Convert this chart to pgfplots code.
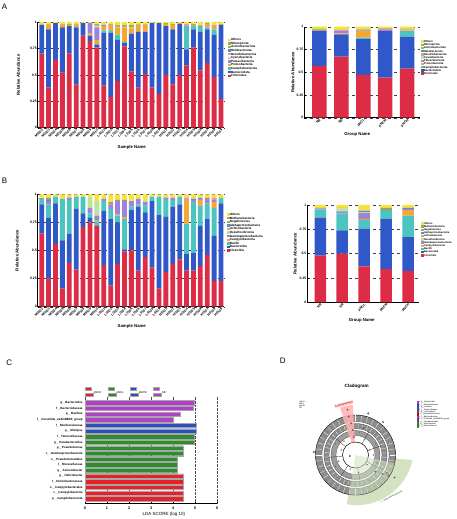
\documentclass[border=0pt]{standalone}
\usepackage{fontspec}
\setmainfont{Liberation Sans}
\usepackage{pgfplots}
\usepackage{pgfplotstable}
\pgfplotsset{compat=1.18}
\definecolor{cR}{HTML}{DC2C46}
\definecolor{cB}{HTML}{3058C8}
\definecolor{cT}{HTML}{4CC4C0}
\definecolor{cO}{HTML}{F4A731}
\definecolor{cP}{HTML}{A082DC}
\definecolor{cLG}{HTML}{BDE59A}
\definecolor{cPk}{HTML}{F2949C}
\definecolor{cSB}{HTML}{4A90D9}
\definecolor{cG}{HTML}{86C440}
\definecolor{cOl}{HTML}{A89F5C}
\definecolor{cY}{HTML}{F6E23E}
\definecolor{lR}{HTML}{E8202A}
\definecolor{lG}{HTML}{2E8B2E}
\definecolor{lB}{HTML}{2A4FC0}
\definecolor{lP}{HTML}{B040C8}
\definecolor{nodeY}{HTML}{CFCF5A}
\definecolor{paleG}{HTML}{D3E2C0}
\definecolor{ringG}{HTML}{8C8C8C}

\pgfplotstableread{
x a b c d e f g h i j k
0 .70 .27 0 .005 0 0 0 0 .005 0 .02
1 .38 .55 0 .04 0 0 .005 0 .005 0 .02
2 .64 .35 0 0 0 0 0 0 0 0 .01
3 .52 .43 0 .02 0 0 .005 0 0 .005 .02
4 .70 .26 0 .01 0 0 0 0 .01 0 .02
5 .41 .54 0 .02 0 0 .005 0 0 .005 .02
6 .87 .12 0 0 0 0 0 0 0 0 .01
7 .82 .05 0 .02 .10 0 0 0 0 0 .01
8 .76 .02 .01 .04 .12 .01 .01 0 .01 0 .02
9 .40 .50 .02 .04 .01 .005 .005 0 0 0 .02
10 .29 .61 .02 .04 0 0 .01 0 .005 .005 .02
11 .44 .39 .05 .07 0 0 .01 0 .01 0 .03
12 .77 .03 .01 .14 0 0 .01 0 .01 0 .03
13 .53 .36 0 .05 0 0 .01 0 .01 .01 .03
14 .38 .53 0 .06 0 0 .005 0 .005 0 .02
15 .51 .40 0 .06 0 0 .005 0 .005 0 .02
16 .38 .61 0 0 0 0 0 0 0 0 .01
17 .32 .67 0 0 0 0 0 0 0 0 .01
18 .50 .46 0 .02 0 0 0 0 .01 0 .01
19 .41 .52 0 .04 0 0 0 0 .01 0 .02
20 .50 .48 0 0 0 0 .01 0 0 0 .01
21 .59 .15 .22 0 0 0 .02 0 0 0 .02
22 .76 .17 .03 0 0 0 .01 0 .01 0 .02
23 .54 .37 .05 0 0 0 .01 0 0 0 .03
24 .61 .32 .02 .02 0 0 .01 0 .01 0 .01
25 .48 .40 .05 .03 0 0 .01 0 0 0 .03
26 .27 .70 0 0 0 0 0 0 .01 0 .02
}\Aleft

\pgfplotstableread{
x a b c d e f g h i j k
0 .57 .386 0 .01 0 0 0 0 .005 .005 .024
1 .67 .246 0 .01 .03 0 .005 0 0 .005 .034
2 .47 .394 .016 .07 .01 0 .005 0 .005 0 .03
3 .44 .516 0 0 .01 0 .01 0 0 .005 .019
4 .54 .35 .06 .01 0 0 .01 0 .01 0 .02
}\Aright

\pgfplotstableread{
x a b c d e f g h i j k
0 .65 .26 .05 0 .005 0 0 0 .005 0 .03
1 .25 .54 .12 0 .03 0 0 .01 0 .02 .03
2 .56 .36 .06 0 0 0 0 0 0 0 .02
3 .16 .43 .37 0 0 0 0 0 0 0 .04
4 .39 .26 .30 0 .02 0 0 0 0 0 .03
5 .33 .54 .11 0 0 0 0 0 0 0 .02
6 .71 .12 .15 0 0 0 0 0 0 0 .02
7 .75 .04 .04 0 .05 .10 0 0 0 0 .02
8 .72 0 .04 .01 .04 .13 0 0 0 0 .06
9 .37 .48 .09 0 .02 0 0 0 0 0 .04
10 .19 .59 .09 0 .04 0 0 0 0 .02 .07
11 .38 .37 .06 .01 .12 0 0 0 0 .01 .05
12 .49 .02 .27 .02 .14 0 0 0 0 .01 .05
13 .50 .36 .03 0 .05 0 0 0 0 0 .06
14 .32 .57 .02 0 .05 0 0 0 0 0 .04
15 .44 .40 .06 0 .03 .02 0 0 0 0 .05
16 .35 .59 .04 0 0 0 0 0 0 0 .02
17 .16 .66 .16 0 0 0 0 0 0 0 .02
18 .31 .49 .16 0 .01 0 0 0 0 0 .03
19 .38 .51 .06 0 .02 0 0 0 0 0 .03
20 .42 .49 .07 0 0 0 0 0 0 0 .02
21 .32 .15 .27 .20 0 0 .03 0 0 0 .03
22 .32 .16 .45 0 .02 0 0 .01 0 0 .04
23 .36 .36 .18 .05 .02 0 0 0 0 0 .03
24 .46 .32 .14 0 .03 0 0 0 0 .02 .03
25 .23 .40 .25 .05 .02 0 .02 0 0 0 .03
26 .23 .69 .05 0 0 0 0 0 0 0 .03
}\Bleft

\pgfplotstableread{
x a b c d e f g h i j k
0 .48 .39 .085 0 .01 0 0 0 0 .005 .03
1 .50 .24 .175 0 .02 .03 0 0 0 .005 .03
2 .37 .387 .09 .01 .06 .01 0 .01 0 .005 .058
3 .34 .52 .09 0 0 0 0 0 0 .02 .03
4 .32 .35 .22 .06 .01 0 0 .01 0 0 .03
}\Bright

\newcommand{\stk}[1]{%
\addplot[fill=cR] table[x=x,y=a]{#1};
\addplot[fill=cB] table[x=x,y=b]{#1};
\addplot[fill=cT] table[x=x,y=c]{#1};
\addplot[fill=cO] table[x=x,y=d]{#1};
\addplot[fill=cP] table[x=x,y=e]{#1};
\addplot[fill=cLG] table[x=x,y=f]{#1};
\addplot[fill=cPk] table[x=x,y=g]{#1};
\addplot[fill=cSB] table[x=x,y=h]{#1};
\addplot[fill=cG] table[x=x,y=i]{#1};
\addplot[fill=cOl] table[x=x,y=j]{#1};
\addplot[fill=cY] table[x=x,y=k]{#1};
}

\pgfplotsset{
  stkax/.style={
    scale only axis, ybar stacked, bar width=4.8pt,
    ymin=0, ymax=1,
    axis x line*=bottom, axis y line*=left,
    axis line style={black, line width=0.4pt},
    ytick={0,0.25,0.5,0.75,1}, yticklabels={0,0.25,0.5,0.75,1},
    ymajorgrids, grid style={dashed, black!75, line width=0.35pt},
    major tick length=1.4pt, tick style={black, line width=0.35pt},
    tick label style={font=\fontsize{3.4}{3.8}\selectfont\bfseries},
    xticklabel style={rotate=45, anchor=north east, inner sep=0.5pt},
    yticklabel style={inner sep=0.8pt},
    label style={font=\fontsize{4.3}{5}\selectfont\bfseries},
    legend style={draw=none, fill=none, inner sep=0pt, outer sep=0pt,
      font=\fontsize{3.1}{3.5}\selectfont\bfseries,
      nodes={inner sep=0.3pt, text height=2.4pt, text depth=0.6pt}},
    legend cell align=left, reverse legend,
    legend image code/.code={\path[##1] (0pt,-1.2pt) rectangle (2.6pt,1.2pt);},
    every axis plot/.append style={draw=none},
  },
  ldaimg/.style={legend image code/.code={\path[##1] (0pt,-1pt) rectangle (6pt,1pt);}},
  samplelabels/.style={xtick={0,...,26}, xticklabels={M0102,M0103,M0104,M0105,M0106,M0107,M0108,M0109,M0110,L0101,L0102,L0103,L0104,L0105,L0106,L0107,L0108,L0109,H0101,H0102,H0103,H0104,H0105,H0106,H0107,H0108,H0109}},
  grouplabels/.style={xtick={0,...,4}, xticklabels={NB,SB,pNCL,pNCM,pNCH}},
}

\begin{document}
\begin{tikzpicture}[x=1pt,y=1pt]
\useasboundingbox (0,0) rectangle (456,519);
\node[font=\fontsize{8}{9}\selectfont] at (4.5,512) {A};
\node[font=\fontsize{8}{9}\selectfont] at (4.5,338.5) {B};
\node[font=\fontsize{8}{9}\selectfont] at (9.3,156.3) {C};
\node[font=\fontsize{8}{9}\selectfont] at (282.7,158.3) {D};

% ---------- A left
\begin{axis}[stkax, samplelabels, at={(37.7pt,391.3pt)}, anchor=south west,
  width=186.3pt, height=105.7pt, xmin=-0.58, xmax=26.43,
  xlabel={Sample Name}, ylabel={Relative Abundance},
  xlabel style={at={(axis description cs:0.505,-0.189)}, anchor=center},
  ylabel style={at={(axis description cs:-0.104,0.5)}, anchor=center},
  legend style={at={(1.022,0.849)}, anchor=north west}]
\stk{\Aleft}
\legend{Firmicutes,Bacteroidota,Campilobacterota,Proteobacteria,Patescibacteria,Cyanobacteria,Desulfobacterota,Halobacterota,Actinobacteriota,Nitrospirota,Others}
\end{axis}

% ---------- A right
\begin{axis}[stkax, grouplabels, at={(304.3pt,401.3pt)}, anchor=south west,
  width=115.7pt, height=91pt, xmin=-0.68, xmax=4.58, bar width=14.5pt,
  xlabel={Group Name}, ylabel={Relative Abundance},
  xlabel style={at={(axis description cs:0.458,-0.187)}, anchor=center},
  ylabel style={at={(axis description cs:-0.1,0.5)}, anchor=center},
  legend style={at={(1.009,0.854)}, anchor=north west,
    font=\fontsize{2.8}{3.2}\selectfont\bfseries,
    nodes={inner sep=0.25pt, text height=2.2pt, text depth=0.5pt}}]
\stk{\Aright}
\legend{Firmicutes,Bacteroidota,Campilobacterota,Proteobacteria,Patescibacteria,Cyanobacteria,Desulfobacterota,Halobacterota,Actinobacteriota,Nitrospirota,Others}
\end{axis}

% ---------- B left
\begin{axis}[stkax, samplelabels, at={(37.7pt,212.3pt)}, anchor=south west,
  width=186.3pt, height=112.4pt, xmin=-0.58, xmax=26.43,
  xlabel={Sample Name}, ylabel={Relative Abundance},
  xlabel style={at={(axis description cs:0.505,-0.178)}, anchor=center},
  ylabel style={at={(axis description cs:-0.11,0.5)}, anchor=center},
  legend style={at={(1.016,0.836)}, anchor=north west}]
\stk{\Bleft}
\legend{Clostridia,Bacteroidia,Bacilli,Campylobacteria,Gammaproteobacteria,Desulfovibrionia,Actinobacteria,Alphaproteobacteria,Negativicutes,Methanobacteria,Others}
\end{axis}

% ---------- B right
\begin{axis}[stkax, grouplabels, at={(307.3pt,216.7pt)}, anchor=south west,
  width=111.7pt, height=97.3pt, xmin=-0.59, xmax=4.5, bar width=11.5pt,
  xlabel={Group Name}, ylabel={Relative Abundance},
  xlabel style={at={(axis description cs:0.487,-0.189)}, anchor=center},
  ylabel style={at={(axis description cs:-0.11,0.5)}, anchor=center},
  legend style={at={(1.02,0.828)}, anchor=north west,
    font=\fontsize{2.6}{3}\selectfont\bfseries,
    nodes={inner sep=0.25pt, text height=2.2pt, text depth=0.5pt}}]
\stk{\Bright}
\legend{Clostridia,Bacteroidia,Bacilli,Campylobacteria,Gammaproteobacteria,Desulfovibrionia,Actinobacteria,Alphaproteobacteria,Negativicutes,Methanobacteria,Others}
\end{axis}

% ---------- C LDA
\begin{axis}[scale only axis, ldaimg, at={(85pt,15.7pt)}, anchor=south west,
  width=132.3pt, height=106.6pt, xbar, bar width=4.4pt,
  xmin=0, xmax=6, ymin=-0.81, ymax=18.06,
  axis x line*=bottom, axis y line*=left,
  y axis line style={draw=none}, ytick style={draw=none},
  x axis line style={black, line width=0.4pt},
  xtick={0,1,2,3,4,5,6}, xticklabels={0,1,2,3,4,5,6},
  major tick length=1.4pt, xtick style={black, line width=0.35pt},
  xmajorgrids, grid style={densely dotted, black!70, line width=0.35pt},
  ytick={0,...,17},
  yticklabels={p\_\_Campilobacterota,c\_\_Campylobacteria,o\_\_Campylobacterales,f\_\_Helicobacteraceae,g\_\_Helicobacter,g\_\_Acinetobacter,f\_\_Moraxellaceae,o\_\_Pseudomonadales,c\_\_Gammaproteobacteria,g\_\_Pseudomonas,g\_\_Parabacteroides,f\_\_Tannerellaceae,g\_\_Alistipes,f\_\_Muribaculaceae,f\_\_Clostridia\_vadinBB60\_group,g\_\_Bacillus,f\_\_Bacteroidaceae,g\_\_Bacteroides},
  yticklabel style={font=\fontsize{3}{3.4}\selectfont\bfseries, inner sep=0.8pt},
  xticklabel style={font=\fontsize{3.8}{4}\selectfont\bfseries},
  xlabel={LDA SCORE (log 10)},
  xlabel style={font=\fontsize{4.5}{5}\selectfont, at={(axis description cs:0.597,-0.1)}, anchor=center},
  legend style={draw=none, fill=none, at={(0,1.044)}, anchor=west, legend columns=4,
    font=\fontsize{2.8}{3}\selectfont, inner sep=0pt,
    /tikz/every even column/.append style={column sep=6pt},
    nodes={inner sep=0.4pt}}]
\addplot[fill=lR, draw=gray!70, line width=0.3pt, bar shift=0pt] coordinates {(4.46,0)(4.46,1)(4.46,2)(4.46,3)(4.46,4)};
\addplot[fill=lG, draw=gray!70, line width=0.3pt, bar shift=0pt] coordinates {(4.20,5)(4.20,6)(4.20,7)(4.45,8)(4.45,9)(4.97,10)(4.97,11)};
\addplot[fill=lB, draw=gray!70, line width=0.3pt, bar shift=0pt] coordinates {(5.05,12)(5.05,13)};
\addplot[fill=lP, draw=gray!70, line width=0.3pt, bar shift=0pt] coordinates {(4.00,14)(4.32,15)(4.92,16)(4.94,17)};
\legend{pNCH,pNCL,pNCM,SB}
\end{axis}

% ---------- D cladogram
\begin{axis}[scale only axis, at={(355.5pt,64pt)}, anchor=center,
  width=120pt, height=120pt, xmin=-60, xmax=60, ymin=-60, ymax=60,
  hide axis, clip=false,
  title={Cladogram},
  title style={font=\fontsize{4.6}{5}\selectfont\bfseries, at={(axis description cs:0.51,1.022)}, anchor=center},
  legend style={draw=none, fill=none, at={(1.01,0.95)}, anchor=north west,
    font=\fontsize{2}{2.2}\selectfont, inner sep=0pt,
    nodes={inner sep=0.2pt, text height=1.6pt, text depth=0.4pt}},
  legend cell align=left]
\fill[paleG] (axis cs:0,0) -- ([shift={(-100:50pt)}]axis cs:0,0) arc[start angle=-100, end angle=-12, radius=57pt] -- cycle;
\fill[ringG, draw=black, line width=0.4pt] (axis cs:0,0) circle[radius=40];
\fill[white, draw=black!80, line width=0.25pt] (axis cs:0,0) circle[radius=33.5];
\fill[ringG, draw=black!80, line width=0.25pt] (axis cs:0,0) circle[radius=31.5];
\fill[white, draw=black!80, line width=0.25pt] (axis cs:0,0) circle[radius=26.5];
\fill[ringG!85, draw=black!80, line width=0.25pt] (axis cs:0,0) circle[radius=24.5];
\fill[white, draw=black!80, line width=0.25pt] (axis cs:0,0) circle[radius=19.5];
\fill[white, draw=black, line width=0.5pt] (axis cs:0,0) circle[radius=13];
\pgfplotsinvokeforeach{0,9,...,351}{
  \addplot[white, line width=0.3pt, data cs=polar, forget plot] coordinates {(#1,34)(#1,39.5)};
  \addplot[white, line width=0.3pt, data cs=polar, forget plot] coordinates {(#1+4,27)(#1+4,31)};
}
\pgfplotsinvokeforeach{20,60,100,140,185,235,280,330}{
  \addplot[black!80, line width=0.3pt, data cs=polar, forget plot] coordinates {(#1,13)(#1,26.5)};
}
\fill[paleG, opacity=0.55] (axis cs:0,0) -- ([shift={(-100:40pt)}]axis cs:0,0) arc[start angle=-100, end angle=-12, radius=40pt] -- cycle;
\fill[red!30, opacity=0.85] ([shift={(93:13pt)}]axis cs:0,0) arc[start angle=93, end angle=108, radius=13pt] -- ([shift={(108:50pt)}]axis cs:0,0) arc[start angle=108, end angle=93, radius=50pt] -- cycle;
\addplot[only marks, mark=*, mark size=0.7pt, fill=nodeY, draw=black!60, line width=0.2pt, data cs=polar, forget plot] coordinates {
(20,15)(160,15)(250,15)(320,15)
(0,18)(60,18)(130,18)(200,18)(280,18)
(30,23)(80,23)(150,23)(210,23)(260,23)(340,23)
(10,29)(50,29)(120,29)(170,29)(230,29)(300,29)
(40,36)(140,36)(190,36)(250,36)(330,36)};
\addplot[only marks, mark=*, mark size=0.8pt, fill=red, draw=black!60, line width=0.2pt, data cs=polar, forget plot] coordinates {(100,46)(100,39)(98,32)(96,25)(95,18)};
\addplot[only marks, mark=*, mark size=0.8pt, fill=lG, draw=black!60, line width=0.2pt, data cs=polar, forget plot] coordinates {(-40,26)(-35,33)(-32,39)(-30,45)};
\addplot[only marks, mark=*, mark size=0.9pt, fill=lB, draw=black!60, line width=0.2pt, data cs=polar, forget plot] coordinates {(73,43.5)(74,28)};
\addplot[only marks, mark=*, mark size=0.9pt, fill=lP, draw=black!60, line width=0.2pt, data cs=polar, forget plot] coordinates {(50,43)(176,41.8)(190,5.8)};
\node[font=\fontsize{2}{2.2}\selectfont, text=red!60!black, fill=red!30, inner sep=0.4pt, rotate=14] at (axis cs:-11.7,50.8) {c\_\_Campylobacteria};
\node[font=\fontsize{2}{2.2}\selectfont\bfseries, text=lG!70!black, rotate=27] at (axis cs:36,-41.7) {c\_\_Gammaproteobacteria};
\node[font=\fontsize{1.9}{2.1}\selectfont, align=left] at (axis cs:-53.5,50) {pNCH\\pNCL\\pNCM\\SB};
\addlegendimage{only marks, mark=square*, mark size=0.8pt, color=lP}
\addlegendentry{a: g\_\_Bacteroides}
\addlegendimage{only marks, mark=square*, mark size=0.8pt, color=lB}
\addlegendentry{b: f\_\_Muribaculaceae}
\addlegendimage{only marks, mark=square*, mark size=0.8pt, color=lB}
\addlegendentry{c: g\_\_Alistipes}
\addlegendimage{only marks, mark=square*, mark size=0.8pt, color=lB}
\addlegendentry{d: f\_\_Tannerellaceae}
\addlegendimage{only marks, mark=square*, mark size=0.8pt, color=lR}
\addlegendentry{e: g\_\_Helicobacter}
\addlegendimage{only marks, mark=square*, mark size=0.8pt, color=lR!70!black}
\addlegendentry{f: f\_\_Helicobacteraceae}
\addlegendimage{only marks, mark=square*, mark size=0.8pt, color=lP}
\addlegendentry{g: f\_\_Bacteroidaceae}
\addlegendimage{only marks, mark=square*, mark size=0.8pt, color=lP!70!black}
\addlegendentry{h: f\_\_Clostridia\_vadinBB60\_group}
\addlegendimage{only marks, mark=square*, mark size=0.8pt, color=lG}
\addlegendentry{i: g\_\_Parabacteroides}
\addlegendimage{only marks, mark=square*, mark size=0.8pt, color=lG}
\addlegendentry{j: g\_\_Acinetobacter}
\addlegendimage{only marks, mark=square*, mark size=0.8pt, color=lG}
\addlegendentry{k: f\_\_Moraxellaceae}
\end{axis}
\end{tikzpicture}
\end{document}
